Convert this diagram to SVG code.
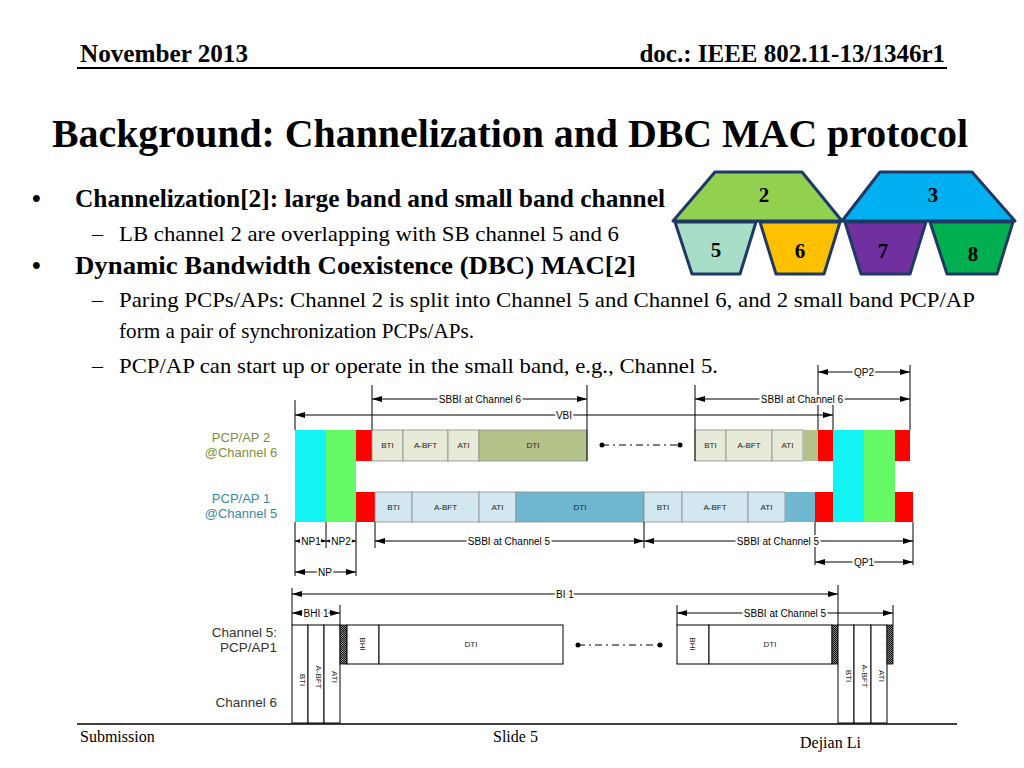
<svg xmlns="http://www.w3.org/2000/svg" width="1024" height="768" viewBox="0 0 1024 768">
<style>
.serif{font-family:"Liberation Serif","Times New Roman",serif;fill:#000}
.hdr{font-size:25px;font-weight:bold}
.ttl{font-size:40px;font-weight:bold}
.b1{font-size:25px;font-weight:bold}
.b2{font-size:22px}
.ft{font-size:16px}
.num{font-family:"Liberation Serif",serif;font-size:21px;font-weight:bold;text-anchor:middle;fill:#000}
.hex{stroke:#203864;stroke-width:3;stroke-linejoin:round}
.sans{font-family:"Liberation Sans",Arial,sans-serif}
.bl{font-family:"Liberation Sans",Arial,sans-serif;font-size:8px;text-anchor:middle;fill:#222}
.al{font-family:"Liberation Sans",Arial,sans-serif;font-size:10px;text-anchor:middle;fill:#000;paint-order:stroke;stroke:#fff;stroke-width:4px}
.ln{stroke:#000;stroke-width:1;fill:none}
.ar{stroke:#000;stroke-width:1;fill:none;marker-start:url(#ah);marker-end:url(#ah)}
.ars{stroke:#000;stroke-width:1;fill:none;marker-start:url(#as);marker-end:url(#as)}
.blk{stroke:#8a8a8a;stroke-width:0.8}
.w{fill:#fff;stroke:#000;stroke-width:1}
.l1{fill:#E8EAD9}.o1{fill:#B3C389}.l2{fill:#D2E7EF}.d2{fill:#6FB7CF}
.cy{fill:#12F3F3}.gr{fill:#66F966}.rd{fill:#FF0000}
.dd{stroke:#000;stroke-width:1;stroke-dasharray:7 4 2 4;fill:none}
</style>
<defs>
<marker id="ah" viewBox="0 0 10 10" refX="10" refY="5" markerWidth="10" markerHeight="6" markerUnits="userSpaceOnUse" orient="auto-start-reverse" preserveAspectRatio="none"><path d="M0,0 L10,5 L0,10 z" fill="#000"/></marker>
<marker id="as" viewBox="0 0 10 10" refX="10" refY="5" markerWidth="5" markerHeight="4" markerUnits="userSpaceOnUse" orient="auto-start-reverse" preserveAspectRatio="none"><path d="M0,0 L10,5 L0,10 z" fill="#000"/></marker>
<pattern id="hatch" width="2" height="2" patternUnits="userSpaceOnUse"><rect width="2" height="2" fill="#888"/><rect width="1" height="1" fill="#111"/><rect x="1" y="1" width="1" height="1" fill="#111"/></pattern>
</defs>
<rect width="1024" height="768" fill="#fff"/>

<!-- header / text -->
<g id="header">
<text class="serif hdr" x="80" y="62" textLength="168" lengthAdjust="spacingAndGlyphs">November 2013</text>
<text class="serif hdr" x="945" y="62" text-anchor="end">doc.: IEEE 802.11-13/1346r1</text>
<line x1="77" y1="68" x2="947" y2="68" stroke="#000" stroke-width="2"/>
<text class="serif ttl" x="52" y="147" textLength="916" lengthAdjust="spacingAndGlyphs">Background: Channelization and DBC MAC protocol</text>
</g>
<g id="bullets">
<text class="serif b1" x="32" y="207">•</text>
<text class="serif b1" x="75" y="207" textLength="590" lengthAdjust="spacingAndGlyphs">Channelization[2]: large band and small band channel</text>
<text class="serif b2" x="92" y="241">–</text>
<text class="serif b2" x="119" y="241" textLength="500" lengthAdjust="spacingAndGlyphs">LB channel 2 are overlapping with SB channel 5 and 6</text>
<text class="serif b1" x="32" y="274">•</text>
<text class="serif b1" x="75" y="274" textLength="561" lengthAdjust="spacingAndGlyphs">Dynamic Bandwidth Coexistence (DBC) MAC[2]</text>
<text class="serif b2" x="92" y="307">–</text>
<text class="serif b2" x="119" y="307" textLength="856" lengthAdjust="spacingAndGlyphs">Paring PCPs/APs: Channel 2 is split into Channel 5 and Channel 6, and 2 small band PCP/AP</text>
<text class="serif b2" x="119" y="338" textLength="355" lengthAdjust="spacingAndGlyphs">form a pair of synchronization PCPs/APs.</text>
<text class="serif b2" x="92" y="373">–</text>
<text class="serif b2" x="119" y="373" textLength="599" lengthAdjust="spacingAndGlyphs">PCP/AP can start up or operate in the small band, e.g., Channel 5.</text>
</g>

<!-- hexagon channel map -->
<g id="ch2"><polygon class="hex" points="673,221 715,172 802,172 842,221" fill="#92D050"/><text class="num" x="764" y="202">2</text></g>
<g id="ch3"><polygon class="hex" points="842,221 880,172 972,172 1015,221" fill="#00B0F0"/><text class="num" x="933" y="202">3</text></g>
<g id="ch5"><polygon class="hex" points="675,222 756,222 740,274 692,274" fill="#A8DDC7"/><text class="num" x="716" y="257">5</text></g>
<g id="ch6"><polygon class="hex" points="760,222 840,222 824,274 776,274" fill="#FFC000"/><text class="num" x="800" y="258">6</text></g>
<g id="ch7"><polygon class="hex" points="845,222 926,222 910,274 861,274" fill="#7030A0"/><text class="num" x="883" y="258">7</text></g>
<g id="ch8"><polygon class="hex" points="930,222 1013,222 997,274 947,274" fill="#00B050"/><text class="num" x="973" y="261">8</text></g>

<!-- upper timing diagram labels -->
<g id="lbl-ap2" class="sans" font-size="13" fill="#7F8E3E" text-anchor="middle">
<text x="241" y="442">PCP/AP 2</text><text x="241" y="457">@Channel 6</text></g>
<g id="lbl-ap1" class="sans" font-size="13" fill="#3A8AAA" text-anchor="middle">
<text x="241" y="503">PCP/AP 1</text><text x="241" y="518">@Channel 5</text></g>

<!-- PCP/AP 2 row -->
<g id="row-ap2">
<rect class="rd" x="356" y="430" width="16" height="31"/>
<rect class="l1 blk" x="372" y="430" width="31" height="31"/><text class="bl" x="387.5" y="448">BTI</text>
<rect class="l1 blk" x="403" y="430" width="45" height="31"/><text class="bl" x="425.5" y="448">A-BFT</text>
<rect class="l1 blk" x="448" y="430" width="31" height="31"/><text class="bl" x="463.5" y="448">ATI</text>
<rect class="o1 blk" x="479" y="430" width="108" height="31"/><text class="bl" x="533" y="448">DTI</text>
<rect class="l1 blk" x="695" y="430" width="31" height="31"/><text class="bl" x="710.5" y="448">BTI</text>
<rect class="l1 blk" x="726" y="430" width="46" height="31"/><text class="bl" x="749" y="448">A-BFT</text>
<rect class="l1 blk" x="772" y="430" width="31" height="31"/><text class="bl" x="787.5" y="448">ATI</text>
<rect class="o1" x="803" y="430" width="15" height="31"/>
<rect class="rd" x="818" y="430" width="15" height="31"/>
<rect class="rd" x="895" y="430" width="15" height="31"/>
</g>
<!-- PCP/AP 1 row -->
<g id="row-ap1">
<rect class="rd" x="356" y="492" width="19" height="30"/>
<rect class="l2 blk" x="375" y="492" width="37" height="30"/><text class="bl" x="393.5" y="510">BTI</text>
<rect class="l2 blk" x="412" y="492" width="67" height="30"/><text class="bl" x="445.5" y="510">A-BFT</text>
<rect class="l2 blk" x="479" y="492" width="37" height="30"/><text class="bl" x="497.5" y="510">ATI</text>
<rect class="d2 blk" x="516" y="492" width="128" height="30"/><text class="bl" x="580" y="510">DTI</text>
<rect class="l2 blk" x="644" y="492" width="38" height="30"/><text class="bl" x="663" y="510">BTI</text>
<rect class="l2 blk" x="682" y="492" width="66" height="30"/><text class="bl" x="715" y="510">A-BFT</text>
<rect class="l2 blk" x="748" y="492" width="37" height="30"/><text class="bl" x="766.5" y="510">ATI</text>
<rect class="d2" x="785" y="492" width="30" height="30"/>
<rect class="rd" x="815" y="492" width="18" height="30"/>
<rect class="rd" x="895" y="492" width="18" height="30"/>
</g>
<g id="np-left"><rect class="cy" x="295" y="430" width="31" height="92"/><rect class="gr" x="326" y="430" width="30" height="92"/></g>
<g id="qp-right"><rect class="cy" x="833" y="430" width="31" height="92"/><rect class="gr" x="864" y="430" width="31" height="92"/></g>

<!-- connectors -->
<g id="connectors">
<path class="ln" d="M295,400V430 M295,522V576 M372,385V430 M587,385V461 M695,385V461 M818,365V430 M910,365V430 M833,403V430 M326,522V548 M356,522V576 M375,522V548 M644,522V548 M815,522V565 M913,522V565"/>
<path class="dd" d="M602,445H680"/>
<circle cx="602" cy="445" r="2.5"/><circle cx="680" cy="445" r="2.5"/>
<line class="ar" x1="372" y1="399" x2="587" y2="399"/><text class="al" x="480" y="403">SBBI at Channel 6</text>
<line class="ar" x1="295" y1="415" x2="833" y2="415"/><text class="al" x="564" y="419">VBI</text>
<line class="ar" x1="695" y1="399" x2="910" y2="399"/><text class="al" x="802" y="403">SBBI at Channel 6</text>
<line class="ar" x1="818" y1="372" x2="910" y2="372"/><text class="al" x="864" y="376">QP2</text>
<line class="ars" x1="295" y1="541" x2="326" y2="541"/><text class="al" x="311" y="545">NP1</text>
<line class="ars" x1="326" y1="541" x2="356" y2="541"/><text class="al" x="341" y="545">NP2</text>
<line class="ar" x1="375" y1="541" x2="644" y2="541"/><text class="al" x="509" y="545">SBBI at Channel 5</text>
<line class="ar" x1="644" y1="541" x2="913" y2="541"/><text class="al" x="778" y="545">SBBI at Channel 5</text>
<line class="ar" x1="815" y1="562" x2="913" y2="562"/><text class="al" x="864" y="566">QP1</text>
<line class="ar" x1="295" y1="572" x2="356" y2="572"/><text class="al" x="325" y="576">NP</text>
<!-- lower -->
<path class="ln" d="M292,588V625 M838,585V625 M340,605V625 M677,605V625 M893,605V625"/>
<line class="ar" x1="292" y1="594" x2="838" y2="594"/><text class="al" x="565" y="598">BI 1</text>
<line class="ar" x1="292" y1="613" x2="340" y2="613"/><text class="al" x="316" y="617">BHI 1</text>
<line class="ar" x1="677" y1="613" x2="893" y2="613"/><text class="al" x="785" y="617">SBBI at Channel 5</text>
<path class="dd" d="M578,645H660"/>
<circle cx="578" cy="645" r="2.5"/><circle cx="660" cy="645" r="2.5"/>
</g>

<!-- lower diagram -->
<g id="lbl-ch" class="sans" font-size="13.5" fill="#333" text-anchor="end">
<text x="277" y="637">Channel 5:</text><text x="277" y="652">PCP/AP1</text><text x="277" y="707">Channel 6</text></g>
<g id="bhi-left">
<rect class="w" x="292" y="625" width="16" height="98"/><text class="bl" font-size="9" transform="translate(300,680) rotate(90)">BTI</text>
<rect class="w" x="308" y="625" width="16" height="98"/><text class="bl" font-size="9" transform="translate(316,677) rotate(90)">A-BFT</text>
<rect class="w" x="324" y="625" width="16" height="98"/><text class="bl" font-size="9" transform="translate(332,677) rotate(90)">ATI</text>
</g>
<g id="bi-left">
<rect x="340" y="625" width="7" height="39" fill="url(#hatch)" stroke="#000" stroke-width="0.8"/>
<rect class="w" x="347" y="625" width="32" height="39"/><text class="bl" font-size="9" transform="translate(360,644) rotate(90)">BHI</text>
<rect class="w" x="379" y="625" width="184" height="39"/><text class="bl" font-size="9" x="471" y="647">DTI</text>
</g>
<g id="bi-right">
<rect class="w" x="677" y="625" width="32" height="39"/><text class="bl" font-size="9" transform="translate(690,644) rotate(90)">BHI</text>
<rect class="w" x="709" y="625" width="123" height="39"/><text class="bl" font-size="9" x="770" y="647">DTI</text>
<rect x="832" y="625" width="6" height="39" fill="url(#hatch)" stroke="#000" stroke-width="0.8"/>
</g>
<g id="bhi-right">
<rect class="w" x="838" y="625" width="16" height="98"/><text class="bl" font-size="9" transform="translate(846,676) rotate(90)">BTI</text>
<rect class="w" x="854" y="625" width="17" height="98"/><text class="bl" font-size="9" transform="translate(862,676) rotate(90)">A-BFT</text>
<rect class="w" x="871" y="625" width="16" height="98"/><text class="bl" font-size="9" transform="translate(879,676) rotate(90)">ATI</text>
<rect x="887" y="625" width="6" height="39" fill="url(#hatch)" stroke="#000" stroke-width="0.8"/>
</g>

<g id="footer">
<line x1="77" y1="724" x2="957" y2="724" stroke="#000" stroke-width="1.5"/>
<text class="serif ft" x="80" y="742">Submission</text>
<text class="serif ft" x="493" y="742">Slide 5</text>
<text class="serif ft" x="800" y="748">Dejian Li</text>
</g>
</svg>
